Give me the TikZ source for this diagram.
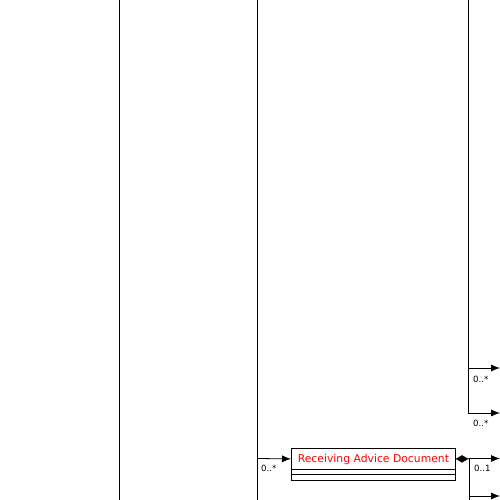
\documentclass[tikz,border=0pt]{standalone}
\usepackage{fontspec}
\setmainfont{DejaVu Sans}
\usetikzlibrary{arrows.meta,shapes.geometric}
\definecolor{classred}{RGB}{255,0,0}
\tikzset{
  wire/.style={line width=0.8pt, black},
  assoc/.style={wire, -{Latex[length=9pt,width=7pt]}},
  mult/.style={font=\fontsize{8.6}{9}\selectfont, inner sep=0pt, anchor=north west},
  classbox/.style={draw, line width=0.8pt, minimum width=164pt, minimum height=21pt, inner sep=0pt,
    text=classred, font=\fontsize{10.8}{12}\selectfont, anchor=north west,
    text height=9pt, text depth=1pt},
  agg/.style={diamond, fill=black, draw=black, inner sep=0pt, minimum width=12pt, minimum height=7pt}
}
\begin{document}
\begin{tikzpicture}[x=1pt,y=-1pt]
\useasboundingbox (0,0) rectangle (500,500);
% frame of the tree
\coordinate (a0) at (119,0);   \coordinate (a1) at (119,500);
\coordinate (b0) at (257,0);   \coordinate (b1) at (257,500);
\coordinate (c0) at (468,0);   \coordinate (c1) at (468,413);
\draw[wire] (a0) -- (a1);
\draw[wire] (b0) -- (b1);
\draw[wire] (c0) -- (c1);
% upper branches
\coordinate (u1) at (468,368); \coordinate (u1e) at (500,368);
\coordinate (u2) at (468,413); \coordinate (u2e) at (500,413);
\draw[assoc] (u1) -- (u1e);
\draw[assoc] (u2) -- (u2e);
\node[mult] (m1) at (473,376) {0..*};
\node[mult] (m2) at (473,420) {0..*};
% the class box
\node[classbox] (doc) at (291,448) {Receiving Advice Document};
\draw[line width=0.8pt] (doc.north west) rectangle (455,480);
\draw[line width=0.8pt] (291,474.3) -- (455,474.3);
\coordinate (in) at (257,458.5);
\draw[assoc] (in) -- (doc.west);
\node[mult] (m3) at (261,465) {0..*};
% composition out of the box
\node[agg, anchor=west] (dia) at (doc.east) {};
\coordinate (d1) at (469,458.5); \coordinate (d1e) at (500,458.5);
\coordinate (d2) at (469,496);   \coordinate (d2e) at (500,496);
\coordinate (d3) at (469,500);
\draw[wire] (dia.east) -- (d1);
\draw[assoc] (d1) -- (d1e);
\draw[wire] (d1) -- (d3);
\draw[assoc] (d2) -- (d2e);
\node[mult] (m4) at (474,465) {0..1};
\end{tikzpicture}
\end{document}
